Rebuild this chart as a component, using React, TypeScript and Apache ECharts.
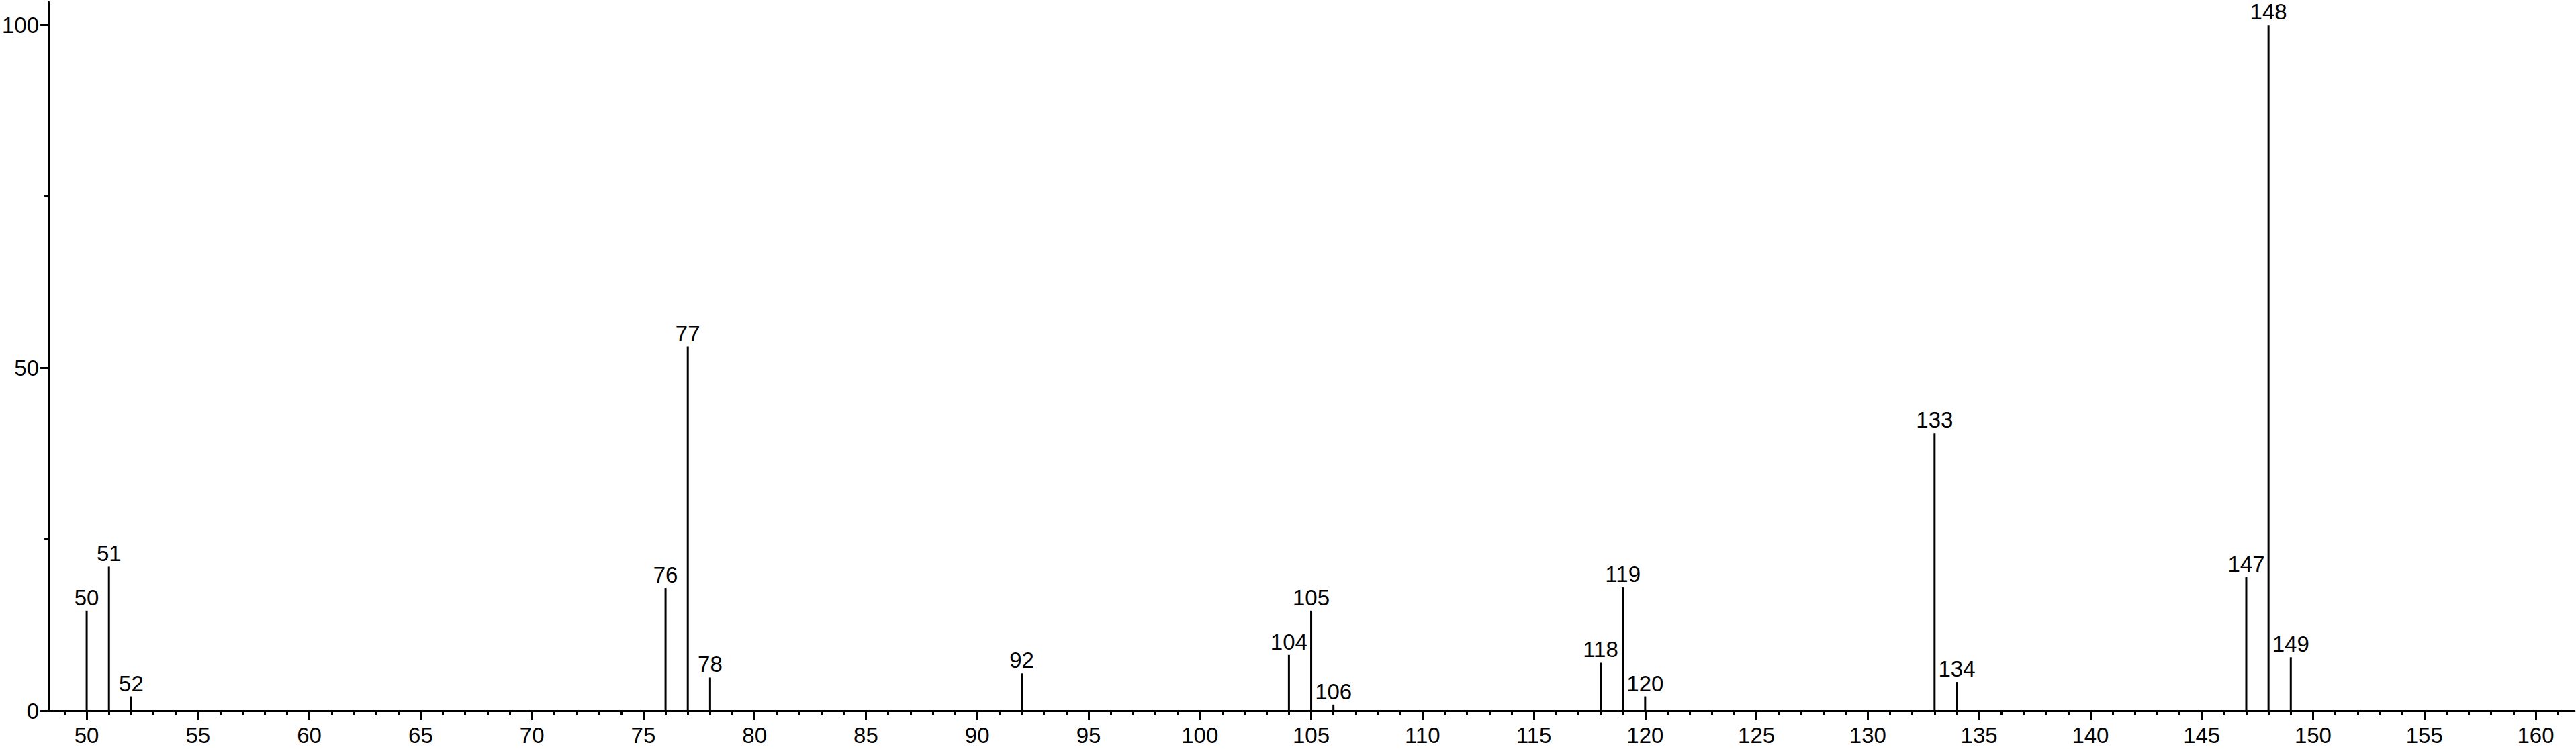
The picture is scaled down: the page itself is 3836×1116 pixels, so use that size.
import React, { useEffect, useRef } from "react";
import * as echarts from "echarts";

// m/z values of the peaks and their relative intensities (%)
const mzValues = [50, 51, 52, 76, 77, 78, 92, 104, 105, 106, 118, 119, 120, 133, 134, 147, 148, 149];
const intensities = [14.6, 21.0, 2.1, 17.9, 53.1, 4.85, 5.45, 8.15, 14.6, 0.9, 7.0, 18.0, 2.1, 40.5, 4.2, 19.5, 100, 7.8];

// axis ticks
const xTickLabels = [50, 55, 60, 65, 70, 75, 80, 85, 90, 95, 100, 105, 110, 115, 120, 125, 130, 135, 140, 145, 150, 155, 160];
const xMinorFrom = 49;
const xMinorTo = 161;
const yTickLabels = [0, 50, 100];
const yMinorTicks = [25, 75];

const X_MIN = 48.28;
const X_MAX = 161.75;
const Y_MAX = 103.35;

const FONT = "'Liberation Sans', Arial, Helvetica, sans-serif";

export default function App() {
  const ref = useRef<HTMLDivElement>(null);

  useEffect(() => {
    if (!ref.current) return;
    const chart = echarts.init(ref.current, undefined, { renderer: "svg" });
    const xMinor: number[] = [];
    for (let v = xMinorFrom; v <= xMinorTo; v++) xMinor.push(v);

    const data = mzValues.map((m, i) => [m, intensities[i]]);

    chart.setOption({
      animation: false,
      backgroundColor: "#ffffff",
      grid: { left: 69, right: 2, top: 3, bottom: 57, containLabel: false },
      xAxis: [
        {
          type: "value",
          min: X_MIN,
          max: X_MAX,
          position: "bottom",
          axisLine: { show: true, onZero: false, lineStyle: { color: "#000", width: 3 } },
          axisTick: { show: true, length: 14, customValues: xTickLabels, lineStyle: { color: "#000", width: 3 } },
          axisLabel: {
            show: true,
            customValues: xTickLabels,
            margin: 20,
            color: "#000",
            fontSize: 33,
            fontFamily: FONT,
          },
          splitLine: { show: false },
        },
        {
          type: "value",
          min: X_MIN,
          max: X_MAX,
          position: "bottom",
          axisLine: { show: false, onZero: false },
          axisTick: { show: true, length: 6, customValues: xMinor, lineStyle: { color: "#000", width: 3 } },
          axisLabel: { show: false },
          splitLine: { show: false },
        },
      ],
      yAxis: [
        {
          type: "value",
          min: 0,
          max: Y_MAX,
          position: "left",
          axisLine: { show: true, onZero: false, lineStyle: { color: "#000", width: 3 } },
          axisTick: { show: true, length: 12, customValues: yTickLabels, lineStyle: { color: "#000", width: 3 } },
          axisLabel: {
            show: true,
            customValues: yTickLabels,
            margin: 14,
            color: "#000",
            fontSize: 33,
            fontFamily: FONT,
          },
          splitLine: { show: false },
        },
        {
          type: "value",
          min: 0,
          max: Y_MAX,
          position: "left",
          axisLine: { show: false, onZero: false },
          axisTick: { show: true, length: 6, customValues: yMinorTicks, lineStyle: { color: "#000", width: 3 } },
          axisLabel: { show: false },
          splitLine: { show: false },
        },
      ],
      series: [
        {
          type: "bar",
          xAxisIndex: 0,
          yAxisIndex: 0,
          data,
          barWidth: 3,
          itemStyle: { color: "#000" },
          label: {
            show: true,
            position: "top",
            distance: 3,
            color: "#000",
            fontSize: 33,
            fontFamily: FONT,
            formatter: (p: any) => String(p.value[0]),
          },
        },
      ],
    });

    return () => chart.dispose();
  }, []);

  return (
    <div
      ref={ref}
      style={{ position: "fixed", left: 0, top: 0, width: 3836, height: 1116, background: "#fff" }}
    />
  );
}
